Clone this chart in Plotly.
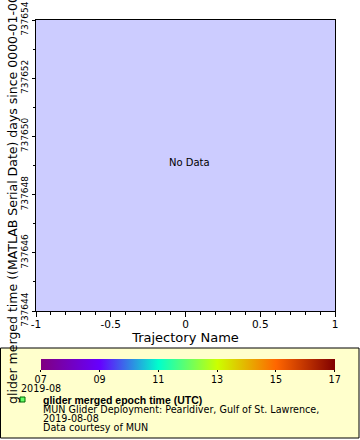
import numpy as np
import plotly.graph_objects as go

# ---- data ----
x_range = [-1, 1]
y_range = [737644, 737654]
x_tickvals = [-1, -0.5, 0, 0.5, 1]
x_ticktext = ["-1", "-0.5", "0", "0.5", "1"]
cbar_vals = [7, 9, 11, 13, 15, 17]
cbar_text = ["07", "09", "11", "13", "15", "17"]
traj_names = []      # no data returned
times = []
epoch_hours = []
x_title = "Trajectory Name"
y_title = "glider merged time ((MATLAB Serial Date) days since 0000-01-00)"
legend_lines = ["MUN Glider Deployment: Pearldiver, Gulf of St. Lawrence,",
                "2019-08-08", "Data courtesy of MUN"]
legend_title = "glider merged epoch time (UTC)"
date_label = "2019-08"

W, H = 360, 440
L, R, T, B = 36, 335, 20, 311
FONT = "DejaVu Sans"

def px(x):
    return (x - L) / (R - L)

def py(y):
    return (B - y) / (B - T)

rainbow = [[0.0, "#800080"], [0.2, "#6600ff"], [0.4, "#00ffcc"],
           [0.6, "#ccff00"], [0.8, "#ff6600"], [1.0, "#800000"]]

# empty dataset -> a single missing point so that the colour scale still renders
xs = traj_names if traj_names else [None]
ys = times if times else [None]
cs = np.array(epoch_hours if epoch_hours else [np.nan], dtype=float)

fig = go.Figure()
fig.add_trace(go.Scatter(
    x=xs, y=ys,
    mode="markers", showlegend=False, hoverinfo="skip",
    marker=dict(color=cs, colorscale=rainbow,
                cmin=cbar_vals[0] - 1e-6, cmax=cbar_vals[-1] + 1e-6, showscale=True,
                colorbar=dict(orientation="h", xref="container", yref="container",
                              x=49 / W, xanchor="left", y=1 - 359 / H, yanchor="top",
                              len=294, lenmode="pixels", thickness=11,
                              thicknessmode="pixels", xpad=0, ypad=0,
                              outlinewidth=0, tickvals=cbar_vals, ticktext=cbar_text,
                              ticks="outside", ticklen=2, tickcolor="black",
                              ticklabeloverflow="allow",
                              tickfont=dict(family=FONT, size=9.6, color="black"))),
))

fig.update_layout(
    width=W, height=H,
    margin=dict(l=L, r=W - R, t=T, b=H - B, pad=0, autoexpand=False),
    paper_bgcolor="white", plot_bgcolor="#ccccff",
    font=dict(family=FONT, size=10, color="black"),
    xaxis=dict(range=x_range, tickvals=x_tickvals, ticktext=x_ticktext,
               showgrid=False, zeroline=False, automargin=False,
               showline=True, linecolor="black", linewidth=1, mirror=True,
               ticks="outside", ticklen=5, tickcolor="black", ticklabelstandoff=-2,
               minor=dict(dtick=0.1, tick0=-1, ticks="outside", ticklen=3,
                          tickcolor="black", showgrid=False),
               tickfont=dict(family=FONT, size=10.5), ticklabeloverflow="allow",
               title=dict(text=x_title, font=dict(family=FONT, size=13), standoff=4)),
    yaxis=dict(range=y_range, dtick=2, tick0=737644, showgrid=False, zeroline=False,
               showline=True, linecolor="black", linewidth=1, mirror=True,
               ticks="outside", ticklen=3, tickcolor="black", tickangle=-90,
               tickformat="d", ticklabeloverflow="allow", automargin=False,
               minor=dict(dtick=1, ticks="outside", ticklen=2, tickcolor="black", showgrid=False),
               tickfont=dict(family=FONT, size=9)),
)

# legend box
fig.add_shape(type="rect", xref="paper", yref="paper",
              x0=px(0.5), x1=px(359), y0=py(348), y1=py(438),
              fillcolor="#ffffcc", line=dict(color="black", width=1), layer="below")
# legend marker
fig.add_shape(type="rect", xref="paper", yref="paper",
              x0=px(20), x1=px(25), y0=py(397), y1=py(402),
              fillcolor="#66ff66", line=dict(color="#006600", width=1))

def ann(text, x, y, size=9.6, bold=False, xanchor="left", angle=0, yanchor="middle", family=FONT):
    fig.add_annotation(text=f"<b>{text}</b>" if bold else text, x=px(x), y=py(y),
                       xref="paper", yref="paper", showarrow=False,
                       xanchor=xanchor, yanchor=yanchor, textangle=angle,
                       font=dict(family=family, size=size, color="black"), borderpad=0)

ann("No Data", 189.5, 162, size=10, xanchor="center")
ann(date_label, 20, 388.5)
ann(legend_title, 42, 400, size=10.5, bold=True, family="Liberation Sans")
for txt, yy in zip(legend_lines, [409.5, 418.5, 427.5]):
    ann(txt, 42, yy)
ann(y_title, 12, 405, size=12.5, xanchor="center", angle=-90, yanchor="bottom")

fig.write_html("out.html")
